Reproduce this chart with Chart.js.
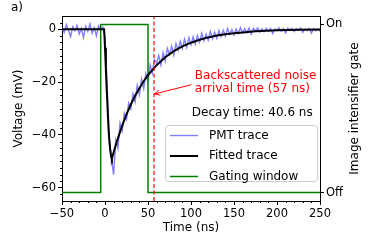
<!DOCTYPE html>
<html>
<head>
<meta charset="utf-8">
<script src="https://cdn.jsdelivr.net/npm/chart.js@4.4.0/dist/chart.umd.min.js"></script>
<style>
  body { margin: 0; background: #fff; }
  canvas { display: block; }
</style>
</head>
<body>
<canvas id="myChart" width="374" height="249"></canvas>
<script>
const FONT = "'DejaVu Sans', sans-serif";

const pmtTime = [
  -50, -47.5, -45, -42.5, -40, -37.5, -35, -32.5, -30, -27.5,
  -25, -22.5, -20, -17.5, -15, -12.5, -10, -7.5, -5, -2.5,
  0, 2.5, 5, 7.5, 10, 12.5, 15, 17.5, 20, 22.5,
  25, 27.5, 30, 32.5, 35, 37.5, 40, 42.5, 45, 47.5,
  50, 52.5, 55, 57.5, 60, 62.5, 65, 67.5, 70, 72.5,
  75, 77.5, 80, 82.5, 85, 87.5, 90, 92.5, 95, 97.5,
  100, 102.5, 105, 107.5, 110, 112.5, 115, 117.5, 120, 122.5,
  125, 127.5, 130, 132.5, 135, 137.5, 140, 142.5, 145, 147.5,
  150, 152.5, 155, 157.5, 160, 162.5, 165, 167.5, 170, 172.5,
  175, 177.5, 180, 182.5, 185, 187.5, 190, 192.5, 195, 197.5,
  200, 202.5, 205, 207.5, 210, 212.5, 215, 217.5, 220, 222.5,
  225, 227.5, 230, 232.5, 235, 237.5, 240, 242.5, 245, 247.5,
  250
];
const pmtVoltage = [
  0.5, -1.2, 1.8, -0.4, -2.8, 0.9, -0.6, 1.5, -1.8, 0.3,
  -3.2, 1.1, -0.8, 2.0, -1.5, 0.6, -2.5, 1.2, -0.3, 0.8,
  -3, -21, -41, -49, -55, -42, -45, -35.5, -38.5, -31.8,
  -34, -28, -30.2, -24.5, -27.5, -21.3, -24.8, -19, -22.5, -16.8,
  -19.8, -13.5, -16.6, -11.5, -12.8, -10, -13.5, -8.9, -12, -7.2,
  -9.6, -6.5, -9.8, -5.4, -7.9, -4.6, -7.3, -3.8, -6.9, -3.2,
  -5.9, -2.9, -5.6, -2.4, -4.9, -1.6, -4.4, -1.9, -4.1, -0.8,
  -3.6, -1.1, -3.5, -0.5, -2.8, -0.4, -2.6, 0.3, -1.9, -0.2,
  -2.2, 0.1, -1.6, 0.6, -1.4, 0.2, -1.3, 0.4, -1.8, 0.3,
  -0.6, 0.5, -1.1, 0.2, -0.9, 0.4, -0.8, 0.3, -1.6, 0.1,
  -0.3, 0.5, -0.7, 0.2, -1.4, 0.4, -0.2, 0.3, -0.9, 0.2,
  -0.4, 0.5, -1.2, 0.1, -0.5, 0.3, -1.5, 0.2, -0.6, 0.1,
  -0.8
];

// fitted trace
const fitTime = [-50, -1, 0, 1, 2, 3, 4, 5, 6, 7, 8, 9, 10, 12, 15, 20, 25, 30, 35, 40,
  45, 50, 57, 60, 70, 80, 90, 100, 110, 120, 130, 140, 150, 160, 175, 200, 225, 250];
const fitVoltage = [0, 0, -7, -15, -23, -30, -37, -42, -45.5, -48, -49, -47.8, -46.7, -44.4, -41.3, -36.5, -32.2, -28.5, -25.2, -22.3,
  -19.7, -17.4, -14.7, -13.6, -10.6, -8.3, -6.5, -5.1, -4.0, -3.1, -2.4, -1.9, -1.5, -1.2, -0.8, -0.4, -0.2, -0.1];

// gating window (0 = off, 1 = on)
const gateTime = [-50, -5, -5, 50, 50, 250];
const gateState = [0, 0, 1, 1, 0, 0];

const noiseArrival = 57;

const xTicks = [-50, 0, 50, 100, 150, 200, 250];
const yTicks = [-60, -40, -20, 0];
const gateTicks = [0, 1];
const gateTickLabels = ["Off", "On"];
const seriesNames = ["PMT trace", "Fitted trace", "Gating window"];

const toPoints = (xs, ys) => xs.map((x, i) => ({ x: x, y: ys[i] }));
const minus = (v) => String(v).replace("-", "\u2212");
const tickFont = { family: FONT, size: 11.5 };

const arrow = (ctx, x1, y1, x2, y2) => {
    const a = Math.atan2(y2 - y1, x2 - x1);
    ctx.beginPath();
    ctx.moveTo(x1, y1);
    ctx.lineTo(x2, y2);
    ctx.moveTo(x2 - 6 * Math.cos(a - 0.45), y2 - 6 * Math.sin(a - 0.45));
    ctx.lineTo(x2, y2);
    ctx.lineTo(x2 - 6 * Math.cos(a + 0.45), y2 - 6 * Math.sin(a + 0.45));
    ctx.stroke();
};

// frame, minor ticks, titles, text and the legend box
const decorations = {
    id: "decorations",
    afterDraw(chart) {
        const { ctx, chartArea: area, scales } = chart;
        const x = scales.x, y = scales.y;
        ctx.save();
        ctx.strokeStyle = "#000";
        ctx.lineWidth = 1;
        ctx.beginPath();
        ctx.moveTo(area.left, Math.round(area.top) + 0.5);
        ctx.lineTo(area.right, Math.round(area.top) + 0.5);
        for (let v = -40; v < 250; v += 10) {
            if (v % 50 === 0) continue;
            const px = Math.round(x.getPixelForValue(v)) + 0.5;
            ctx.moveTo(px, area.bottom);
            ctx.lineTo(px, area.bottom + 2);
        }
        for (let v = -62.5; v < 5; v += 2.5) {
            if (v % 20 === 0) continue;
            const py = Math.round(y.getPixelForValue(v)) + 0.5;
            ctx.moveTo(area.left - 2, py);
            ctx.lineTo(area.left, py);
        }
        ctx.stroke();

        // axis titles
        ctx.fillStyle = "#000";
        ctx.font = "12px " + FONT;
        ctx.textAlign = "center";
        ctx.textBaseline = "middle";
        const midY = (area.top + area.bottom) / 2;
        ctx.fillText("Time (ns)", (area.left + area.right) / 2, 228);
        ctx.save();
        ctx.translate(19, midY);
        ctx.rotate(-Math.PI / 2);
        ctx.fillText("Voltage (mV)", 0, 0);
        ctx.restore();
        ctx.save();
        ctx.translate(355, midY);
        ctx.rotate(-Math.PI / 2);
        ctx.fillText("Image intensifier gate", 0, 0);
        ctx.restore();

        ctx.textAlign = "left";
        ctx.fillText("a)", 11, 8);

        // annotations
        ctx.fillStyle = "#ff0000";
        ctx.strokeStyle = "#ff0000";
        ctx.fillText("Backscattered noise", x.getPixelForValue(104.5), y.getPixelForValue(-17.5));
        ctx.fillText("arrival time (57 ns)", x.getPixelForValue(104.5), y.getPixelForValue(-22.4));
        arrow(ctx, x.getPixelForValue(100.5), y.getPixelForValue(-21), x.getPixelForValue(noiseArrival + 0.5), y.getPixelForValue(-24.5));
        ctx.fillStyle = "#000";
        ctx.fillText("Decay time: 40.6 ns", x.getPixelForValue(101), y.getPixelForValue(-31.6));

        // legend
        const lx = area.right - 155, ly = area.bottom - 76, lw = 152, lh = 56;
        ctx.beginPath();
        ctx.roundRect(lx + 0.5, ly + 0.5, lw, lh, 3);
        ctx.fillStyle = "rgba(255,255,255,0.8)";
        ctx.fill();
        ctx.strokeStyle = "#cccccc";
        ctx.stroke();
        const items = chart.data.datasets.filter(d => seriesNames.includes(d.label));
        items.forEach((d, i) => {
            const ry = ly + 10.5 + i * 20.5;
            ctx.beginPath();
            ctx.strokeStyle = d.borderColor;
            ctx.lineWidth = d.borderWidth;
            ctx.moveTo(lx + 5, ry);
            ctx.lineTo(lx + 33, ry);
            ctx.stroke();
            ctx.fillStyle = "#000";
            ctx.fillText(d.label, lx + 44, ry);
        });
        ctx.restore();
    }
};

const ctx = document.getElementById("myChart").getContext("2d");

new Chart(ctx, {
    type: "line",
    data: {
        datasets: [{
            label: "PMT trace",
            data: toPoints(pmtTime, pmtVoltage),
            borderColor: "#7f7fff",
            borderWidth: 1.4,
            yAxisID: "y",
            order: 4,
        }, {
            label: "Fitted trace",
            data: toPoints(fitTime, fitVoltage),
            borderColor: "#000000",
            borderWidth: 2,
            yAxisID: "y",
            order: 2,
        }, {
            label: "Gating window",
            data: toPoints(gateTime, gateState),
            borderColor: "#008000",
            borderWidth: 1.5,
            yAxisID: "y2",
            order: 3,
        }, {
            label: "noise arrival",
            data: [{ x: noiseArrival, y: -65 }, { x: noiseArrival, y: 5 }],
            borderColor: "#ff0000",
            borderWidth: 1.2,
            borderDash: [4, 2.5],
            yAxisID: "y",
            order: 1,
        }, ],
    },
    options: {
        responsive: false,
        animation: false,
        devicePixelRatio: 1,
        layout: { padding: { top: 16, left: 0, right: 0, bottom: 0 } },
        elements: { point: { radius: 0 }, line: { tension: 0, fill: false } },
        plugins: { legend: { display: false }, tooltip: { enabled: false } },
        scales: {
            x: {
                type: "linear",
                min: -50,
                max: 250,
                afterFit: (s) => { s.height = 48; },
                afterBuildTicks: (s) => { s.ticks = xTicks.map(v => ({ value: v })); },
                ticks: { font: tickFont, color: "#000", padding: 2, maxRotation: 0, callback: minus },
                grid: { drawOnChartArea: false, tickLength: 4, tickColor: "#000" },
                border: { color: "#000" },
            },
            y: {
                type: "linear",
                position: "left",
                min: -65,
                max: 5,
                afterFit: (s) => { s.width = 62; },
                afterBuildTicks: (s) => { s.ticks = yTicks.map(v => ({ value: v })); },
                ticks: { font: tickFont, color: "#000", padding: 2, callback: minus },
                grid: { drawOnChartArea: false, tickLength: 4, tickColor: "#000" },
                border: { color: "#000" },
            },
            y2: {
                type: "linear",
                position: "right",
                min: -0.05,
                max: 1.05,
                afterFit: (s) => { s.width = 54; },
                afterBuildTicks: (s) => { s.ticks = gateTicks.map(v => ({ value: v })); },
                ticks: { font: tickFont, color: "#000", padding: 2, callback: (v) => gateTickLabels[gateTicks.indexOf(v)] },
                grid: { drawOnChartArea: false, tickLength: 4, tickColor: "#000" },
                border: { color: "#000" },
            },
        },
    },
    plugins: [decorations],
});
</script>
</body>
</html>
